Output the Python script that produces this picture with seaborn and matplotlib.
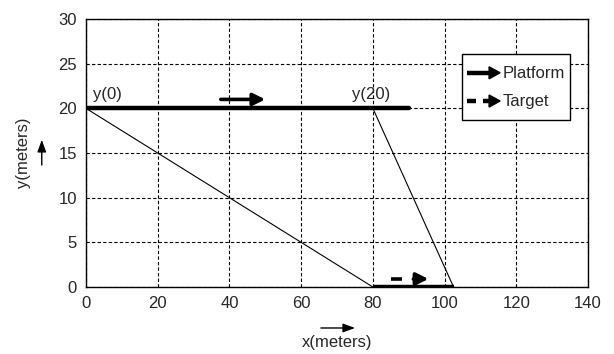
import matplotlib
matplotlib.use("Agg")
import matplotlib.pyplot as plt
import seaborn as sns
import pandas as pd
from matplotlib.legend_handler import HandlerBase
from matplotlib.lines import Line2D
from matplotlib.patches import Polygon

# platform path (top) and target path (bottom)
platform_x = [0, 90]
platform_y = [20, 20]
target_x = [80, 102.5]
target_y = [0, 0]

# lines of sight at t=0 and t=20
los0_x = [0, 80]
los0_y = [20, 0]
los20_x = [80, 102.5]
los20_y = [20, 0]

point_labels = ["y(0)", "y(20)"]
point_x = [2, 79.5]
point_y = [21, 21]
point_ha = ["left", "center"]

# direction arrows drawn inside the plot
platform_arrow = [(37.6, 21), (50, 21)]
target_arrow = [(85, 0.9), (95.5, 0.9)]

x_ticks = [0, 20, 40, 60, 80, 100, 120, 140]
y_ticks = [0, 5, 10, 15, 20, 25, 30]


class ArrowHandler(HandlerBase):
    def __init__(self, dashed=False):
        super().__init__()
        self.dashed = dashed

    def create_artists(self, legend, orig_handle, xdescent, ydescent,
                       width, height, fontsize, trans):
        y = height / 2 - ydescent
        head = width * 0.33
        hw = fontsize * 0.36
        if self.dashed:
            arts = [Line2D([-xdescent, -xdescent + width * 0.28], [y, y],
                           color="black", lw=3.2, solid_capstyle="butt"),
                    Line2D([-xdescent + width * 0.5, width - head], [y, y],
                           color="black", lw=3.2, solid_capstyle="butt")]
        else:
            arts = [Line2D([-xdescent, width - head], [y, y], color="black",
                           lw=3.2, solid_capstyle="butt")]
        tri = Polygon([[width - head, y - hw], [width - head, y + hw],
                       [width, y]], closed=True, color="black")
        for a in arts + [tri]:
            a.set_transform(trans)
        return arts + [tri]


sns.set_theme(style="white")
plt.rcParams["font.family"] = ["Liberation Sans", "DejaVu Sans"]

fig, ax = plt.subplots(figsize=(6.14, 3.54), dpi=100)

df_p = pd.DataFrame({"x": platform_x, "y": platform_y})
df_t = pd.DataFrame({"x": target_x, "y": target_y})
sns.lineplot(data=df_p, x="x", y="y", color="black", lw=3.2, ax=ax,
             solid_capstyle="round", zorder=4)
sns.lineplot(data=df_t, x="x", y="y", color="black", lw=3.2, ax=ax,
             solid_capstyle="butt", zorder=4)
sns.lineplot(x=los0_x, y=los0_y, color="black", lw=0.8, ax=ax, zorder=3)
sns.lineplot(x=los20_x, y=los20_y, color="black", lw=0.8, ax=ax, zorder=3)

for lab, px, py, ha in zip(point_labels, point_x, point_y, point_ha):
    ax.text(px, py, lab, fontsize=12, ha=ha, va="baseline")

ax.annotate("", xy=platform_arrow[1], xytext=platform_arrow[0],
            arrowprops=dict(arrowstyle="-|>,head_length=0.6,head_width=0.3",
                            color="black", lw=2.6, shrinkA=0, shrinkB=0))
(tx0, ty0), (tx1, ty1) = target_arrow
ax.plot([tx0, tx0 + 3.1], [ty0, ty1], color="black", lw=2.6,
        solid_capstyle="butt")
ax.annotate("", xy=(tx1, ty1), xytext=(tx0 + 6.3, ty0),
            arrowprops=dict(arrowstyle="-|>,head_length=0.6,head_width=0.3",
                            color="black", lw=2.6, shrinkA=0, shrinkB=0))

ax.set_xlim(0, 140)
ax.set_ylim(0, 30)
ax.set_xticks(x_ticks)
ax.set_yticks(y_ticks)
ax.tick_params(labelsize=12, length=0, pad=6.5)
ax.grid(True, color="black", linestyle=(0, (3, 2)), lw=0.8)
ax.set_axisbelow(True)
for s in ax.spines.values():
    s.set_color("black")
    s.set_linewidth(1.0)

ax.set_xlabel("x(meters)", fontsize=12, va="center")
ax.set_ylabel("y(meters)", fontsize=12, va="center")
ax.xaxis.set_label_coords(0.5, -0.209)
ax.yaxis.set_label_coords(-0.1235, 0.5)
ax.annotate("", xy=(0.536, -0.153), xytext=(0.468, -0.153), xycoords="axes fraction",
            arrowprops=dict(arrowstyle="-|>,head_length=0.6,head_width=0.22",
                            color="black", lw=1, shrinkA=0, shrinkB=0),
            annotation_clip=False)
ax.annotate("", xy=(-0.088, 0.549), xytext=(-0.088, 0.455), xycoords="axes fraction",
            arrowprops=dict(arrowstyle="-|>,head_length=0.6,head_width=0.22",
                            color="black", lw=1, shrinkA=0, shrinkB=0),
            annotation_clip=False)

h1 = Line2D([], [])
h2 = Line2D([], [])
leg = ax.legend([h1, h2], ["Platform", "Target"], loc="upper right",
                bbox_to_anchor=(0.964, 0.869), fontsize=12, frameon=True,
                fancybox=False, edgecolor="black", framealpha=1,
                handlelength=2.0, handleheight=2.15, handletextpad=0.15,
                borderpad=0.3, labelspacing=0.05, borderaxespad=0,
                handler_map={h1: ArrowHandler(False), h2: ArrowHandler(True)})
leg.get_frame().set_linewidth(1.0)
leg.set_zorder(6)

fig.subplots_adjust(left=0.140, right=0.9577, top=0.9463, bottom=0.1893)
fig.savefig("out.png", dpi=100)
